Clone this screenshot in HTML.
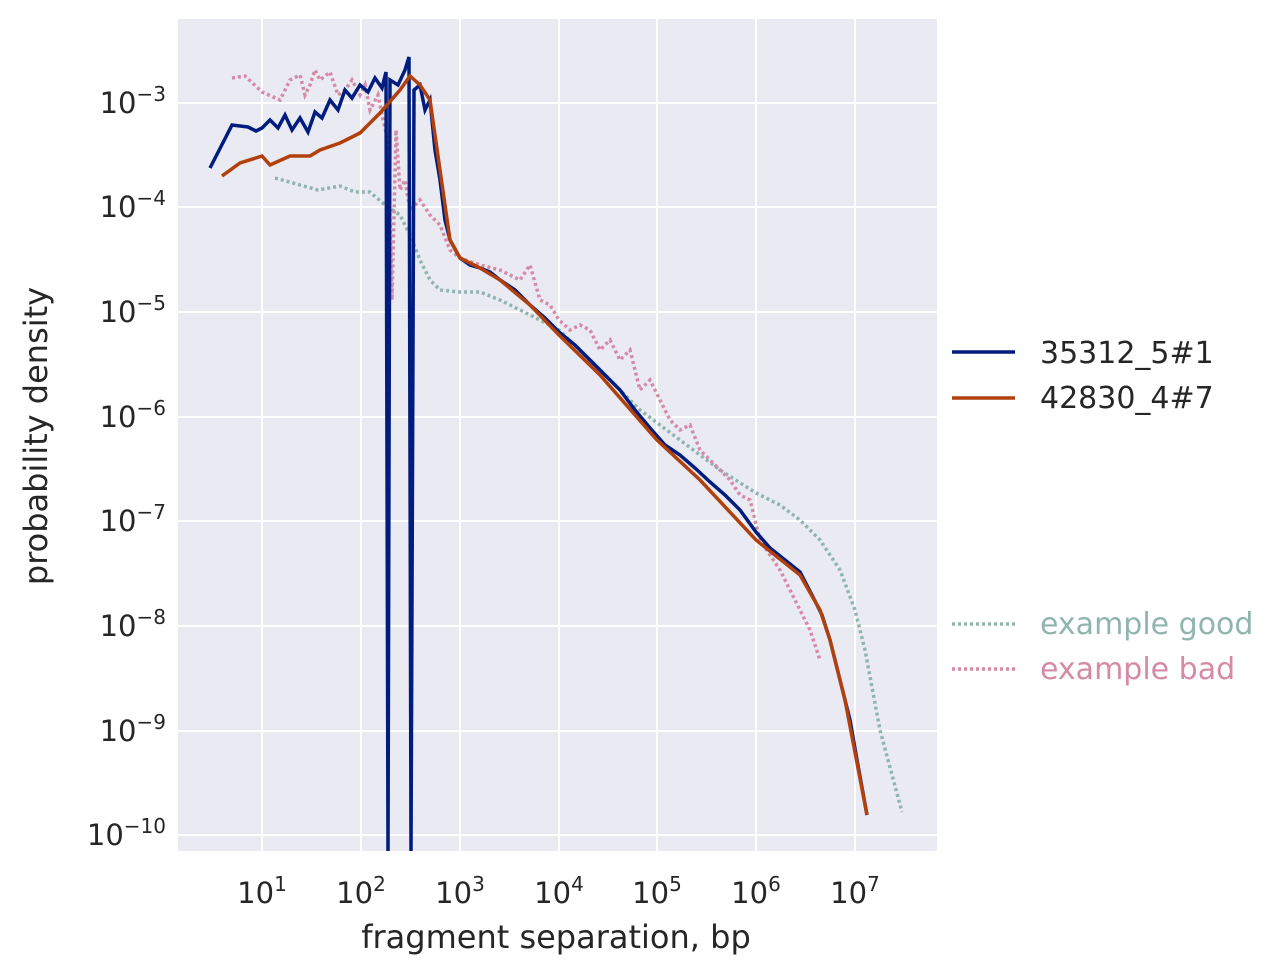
<!DOCTYPE html>
<html><head><meta charset="utf-8"><style>
body{margin:0;background:#fff;}
svg{display:block;font-family:"DejaVu Sans","Liberation Sans",sans-serif;}
</style></head><body>
<svg width="1283" height="976" xmlns="http://www.w3.org/2000/svg">
<rect x="178" y="19" width="759" height="832" fill="#eaeaf2"/>
<g stroke="#fff" stroke-width="2">
<line x1="262" y1="19" x2="262" y2="851"/><line x1="361" y1="19" x2="361" y2="851"/>
<line x1="460" y1="19" x2="460" y2="851"/><line x1="559" y1="19" x2="559" y2="851"/>
<line x1="657" y1="19" x2="657" y2="851"/><line x1="756" y1="19" x2="756" y2="851"/>
<line x1="855" y1="19" x2="855" y2="851"/>
<line x1="178" y1="103" x2="937" y2="103"/><line x1="178" y1="207" x2="937" y2="207"/>
<line x1="178" y1="312" x2="937" y2="312"/><line x1="178" y1="417" x2="937" y2="417"/>
<line x1="178" y1="521" x2="937" y2="521"/><line x1="178" y1="626" x2="937" y2="626"/>
<line x1="178" y1="731" x2="937" y2="731"/><line x1="178" y1="835" x2="937" y2="835"/>
</g>
<svg x="178" y="19" width="759" height="832" viewBox="178 19 759 832">
<polyline fill="none" stroke="#8fb5ad" stroke-width="3.5" stroke-dasharray="3,3" points="275,178 300,185 318,190 340,186 355,192 370,192 385,205 400,215 410,235 420,260 430,280 440,290 460,292 480,292 500,300 530,315 559,330 600,370 640,410 680,440 720,470 756,493 780,505 800,520 820,540 840,570 855,610 865,650 880,730 902,812"/>
<polyline fill="none" stroke="#d58aa5" stroke-width="3.5" stroke-dasharray="3,3" points="232,78 245,76 262,92 280,100 290,80 300,75 305,95 310,85 315,70 320,80 330,72 338,95 345,90 352,80 360,95 365,85 370,110 378,95 383,120 388,140 392,300 396,130 400,190 405,180 410,210 420,200 430,215 440,225 450,250 460,258 480,265 500,270 510,275 520,280 530,265 540,300 550,305 559,320 570,330 580,325 590,330 600,350 610,340 620,360 630,350 640,390 650,380 660,400 670,420 680,430 690,425 700,450 710,460 720,470 730,480 740,495 750,500 760,540 770,555 780,570 790,590 800,610 810,630 820,660"/>
<polyline fill="none" stroke="#001c7f" stroke-width="3.5" points="210,168 232,125 248,127 256,131 262,128 270,120 278,128 285,115 292,130 300,118 308,132 315,112 322,118 330,100 338,110 345,90 352,98 360,85 368,92 375,78 382,88 386,72 388,851 390,80 398,85 405,70 409,57 411,851 414,90 420,85 425,110 430,100 435,150 440,180 445,220 450,240 460,258 470,265 480,268 490,272 500,280 515,290 530,305 545,318 559,332 575,345 590,360 605,375 620,390 635,410 650,428 665,445 680,455 695,468 710,482 725,495 740,510 756,532 770,548 785,560 800,572 812,595 822,615 830,640 840,680 850,720 857,760 867,815"/>
<polyline fill="none" stroke="#b1400d" stroke-width="3.5" points="222,176 240,163 262,156 270,165 290,156 310,156 320,150 340,143 360,133 380,113 400,90 410,76 420,85 430,100 440,170 450,240 460,258 480,268 500,280 530,305 559,335 600,375 657,440 700,480 756,540 800,575 820,610 830,640 845,700 867,815"/>
</svg>
<g font-size="29" fill="#262626" text-anchor="end">
<text x="166" y="113">10<tspan dy="-12" font-size="20">−3</tspan></text>
<text x="166" y="217">10<tspan dy="-12" font-size="20">−4</tspan></text>
<text x="166" y="322">10<tspan dy="-12" font-size="20">−5</tspan></text>
<text x="166" y="427">10<tspan dy="-12" font-size="20">−6</tspan></text>
<text x="166" y="531">10<tspan dy="-12" font-size="20">−7</tspan></text>
<text x="166" y="636">10<tspan dy="-12" font-size="20">−8</tspan></text>
<text x="166" y="741">10<tspan dy="-12" font-size="20">−9</tspan></text>
<text x="166" y="845">10<tspan dy="-12" font-size="20">−10</tspan></text>
</g>
<g font-size="29" fill="#262626" text-anchor="middle">
<text x="262" y="903">10<tspan dy="-12" font-size="20">1</tspan></text>
<text x="361" y="903">10<tspan dy="-12" font-size="20">2</tspan></text>
<text x="460" y="903">10<tspan dy="-12" font-size="20">3</tspan></text>
<text x="559" y="903">10<tspan dy="-12" font-size="20">4</tspan></text>
<text x="657" y="903">10<tspan dy="-12" font-size="20">5</tspan></text>
<text x="756" y="903">10<tspan dy="-12" font-size="20">6</tspan></text>
<text x="855" y="903">10<tspan dy="-12" font-size="20">7</tspan></text>
<text x="556" y="948" font-size="32">fragment separation, bp</text>
<text transform="translate(47,436) rotate(-90)" font-size="32">probability density</text>
</g>
<line x1="952" y1="352" x2="1015" y2="352" stroke="#001c7f" stroke-width="3.5"/>
<line x1="952" y1="398" x2="1015" y2="398" stroke="#b1400d" stroke-width="3.5"/>
<line x1="952" y1="624" x2="1015" y2="624" stroke="#8fb5ad" stroke-width="3.5" stroke-dasharray="3,3"/>
<line x1="952" y1="669" x2="1015" y2="669" stroke="#d58aa5" stroke-width="3.5" stroke-dasharray="3,3"/>
<g font-size="30">
<text x="1040" y="363" fill="#262626">35312_5#1</text>
<text x="1040" y="408" fill="#262626">42830_4#7</text>
<text x="1040" y="634" fill="#8fb5ad">example good</text>
<text x="1040" y="679" fill="#d58aa5">example bad</text>
</g>
</svg>
</body></html>
